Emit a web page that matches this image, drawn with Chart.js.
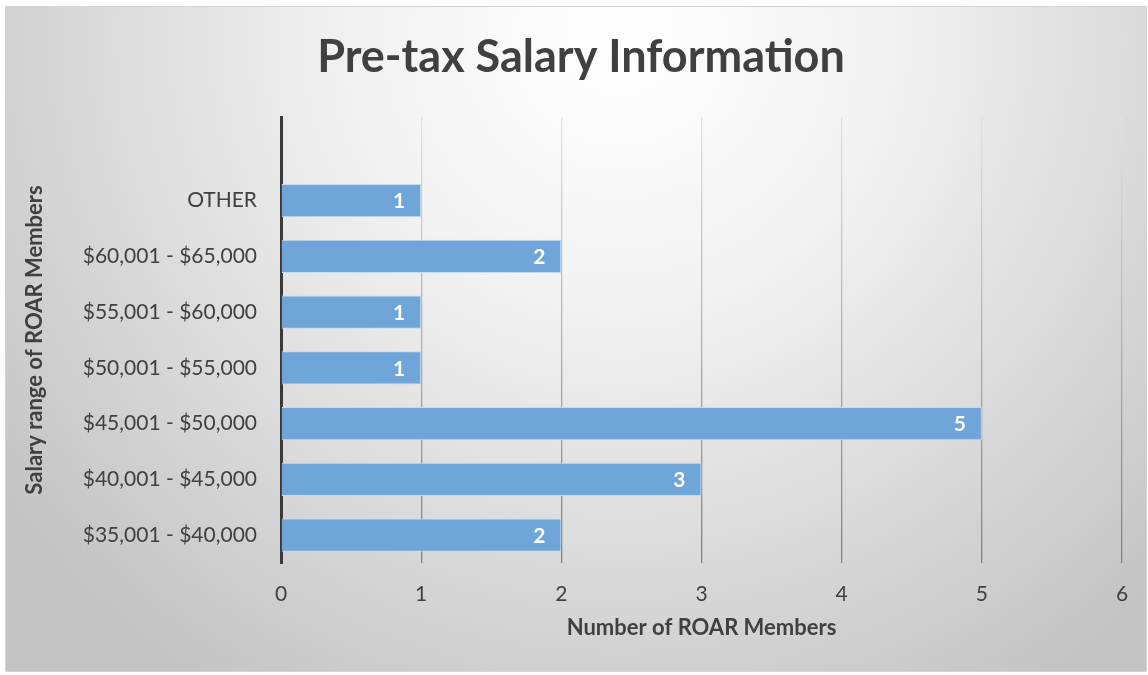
<!DOCTYPE html>
<html>
<head>
<meta charset="utf-8">
<script src="https://cdn.jsdelivr.net/npm/chart.js@4.4.1/dist/chart.umd.min.js"></script>
<style>
  html, body { margin: 0; padding: 0; background: #ffffff; }
  #wrap { width: 1148px; height: 675px; position: relative; }
</style>
</head>
<body>
<div id="wrap"><canvas id="salaryChart" width="1148" height="675"></canvas></div>
<script>
// salary ranges, top to bottom (first one is the empty slot Excel leaves above)
var rangos = ['', 'OTHER', '$60,001 - $65,000', '$55,001 - $60,000', '$50,001 - $55,000',
              '$45,001 - $50,000', '$40,001 - $45,000', '$35,001 - $40,000'];
var miembros = [null, 1, 2, 1, 1, 5, 3, 2];
var ticks_x = [0, 1, 2, 3, 4, 5, 6];

var FUENTE = 'Lato, "Open Sans", sans-serif';
var GRIS_TEXTO = '#404040';

// fondo con degradado radial y borde fino
var fondo = {
  id: 'fondo',
  beforeDraw: function(chart) {
    var ctx = chart.ctx;
    ctx.save();
    var g = ctx.createRadialGradient(620, 40, 0, 620, 40, 760);
    g.addColorStop(0, '#ffffff');
    g.addColorStop(0.35, '#f2f2f2');
    g.addColorStop(1, '#c4c4c4');
    ctx.fillStyle = g;
    ctx.fillRect(5, 6, 1141, 665);
    ctx.strokeStyle = '#d4d4d4';
    ctx.lineWidth = 1;
    ctx.strokeRect(5.5, 6.5, 1141, 665);
    ctx.restore();
  }
};

// etiquetas blancas al final de cada barra
var etiquetas = {
  id: 'etiquetas',
  afterDatasetsDraw: function(chart) {
    var ctx = chart.ctx;
    var meta = chart.getDatasetMeta(0);
    ctx.save();
    ctx.fillStyle = '#ffffff';
    ctx.font = 'bold 21px ' + FUENTE;
    ctx.textAlign = 'right';
    ctx.textBaseline = 'middle';
    for (var i = 0; i < meta.data.length; i++) {
      var v = miembros[i];
      if (v == null) continue;
      var bar = meta.data[i];
      ctx.fillText(String(v), bar.x - 16, bar.y + 1);
    }
    ctx.restore();
  }
};

function gridDegradado(c) {
  var chart = c.chart;
  var area = chart.chartArea;
  if (!area) return '#a0a0a0';
  var g = chart.ctx.createLinearGradient(0, area.top, 0, area.bottom);
  g.addColorStop(0, '#e2e2e2');
  g.addColorStop(1, '#7f7f7f');
  return g;
}

var canvas_ref = document.getElementById('salaryChart');
var barChart = new Chart(canvas_ref, {
  type: 'bar',
  data: {
    labels: rangos,
    datasets: [{
      label: 'ROAR Members',
      data: miembros,
      backgroundColor: '#6fa5d8',
      borderColor: '#c4dbf0',
      borderWidth: 1,
      barPercentage: 0.6,
      categoryPercentage: 1.0
    }]
  },
  options: {
    indexAxis: 'y',
    responsive: false,
    animation: false,
    layout: { padding: { left: 40, right: 26, top: 0, bottom: 32 } },
    plugins: {
      legend: { display: false },
      tooltip: { enabled: false },
      title: {
        display: true,
        text: 'Pre-tax Salary Information',
        color: GRIS_TEXTO,
        font: { family: FUENTE, size: 45, weight: 'bold' },
        padding: { top: 30, bottom: 33 }
      }
    },
    scales: {
      x: {
        min: 0,
        max: 6,
        afterBuildTicks: function(scale) {
          scale.ticks = ticks_x.map(function(v) { return { value: v }; });
        },
        afterFit: function(scale) { scale.height = 80; },
        grid: { color: gridDegradado, lineWidth: 1.3, drawTicks: false },
        border: { display: false },
        ticks: { color: GRIS_TEXTO, font: { family: FUENTE, size: 21 }, padding: 19 },
        title: {
          display: true,
          text: 'Number of ROAR Members',
          color: GRIS_TEXTO,
          font: { family: FUENTE, size: 22, weight: 'bold' },
          padding: { top: 4, bottom: 2 }
        }
      },
      y: {
        afterFit: function(scale) { scale.width = 241; },
        grid: { display: false, drawTicks: false },
        border: { display: true, color: '#3a3a3a', width: 3 },
        ticks: { color: GRIS_TEXTO, font: { family: FUENTE, size: 21 }, padding: 24 },
        title: {
          display: true,
          text: 'Salary range of ROAR Members',
          color: GRIS_TEXTO,
          font: { family: FUENTE, size: 22, weight: 'bold' },
          padding: { top: -18, bottom: 0 }
        }
      }
    }
  },
  plugins: [fondo, etiquetas]
});
</script>
</body>
</html>
